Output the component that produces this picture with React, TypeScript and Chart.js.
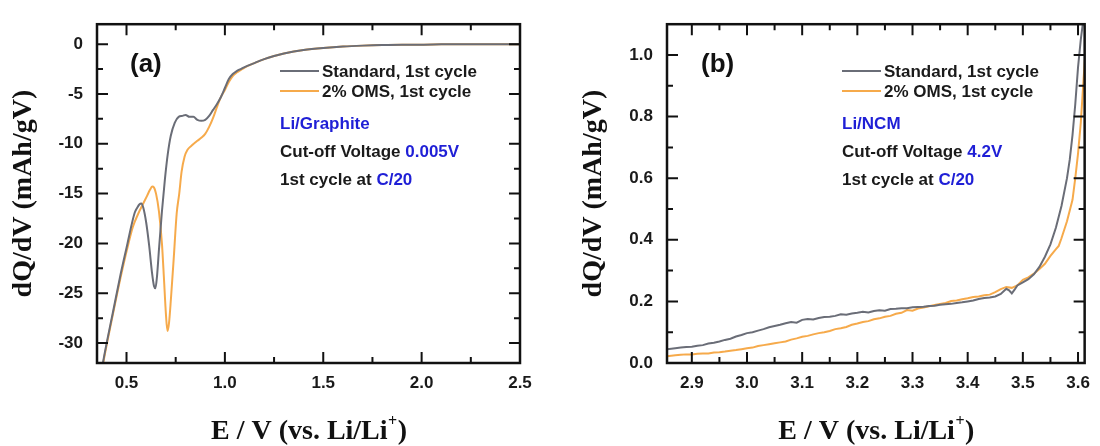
import React, { useEffect, useRef } from 'react';
import { Chart, registerables } from 'chart.js';

Chart.register(...registerables);

// ---------- Panel (a): Li/Graphite ----------
const A_STD_X = [0.37, 0.38, 0.40, 0.43, 0.47, 0.505, 0.525, 0.542, 0.555, 0.565, 0.575, 0.585, 0.60, 0.615, 0.63, 0.64, 0.647, 0.655, 0.665, 0.68, 0.695, 0.71, 0.725, 0.745, 0.765, 0.785, 0.80, 0.82, 0.84, 0.86, 0.88, 0.90, 0.92, 0.94, 0.96, 0.98, 1.00, 1.02, 1.04, 1.06, 1.08, 1.10, 1.15, 1.20, 1.25, 1.30, 1.35, 1.40, 1.50, 1.60, 1.70, 1.80, 1.90, 2.00, 2.10, 2.30, 2.50];
const A_STD_Y = [-33.2, -32.0, -29.9, -27.0, -23.1, -20.0, -18.2, -16.9, -16.4, -16.1, -16.0, -16.4, -17.9, -20.2, -23.0, -24.3, -24.5, -23.3, -20.6, -16.8, -13.6, -11.0, -9.2, -7.9, -7.3, -7.2, -7.1, -7.3, -7.3, -7.6, -7.7, -7.6, -7.2, -6.6, -6.0, -5.3, -4.4, -3.5, -3.0, -2.7, -2.5, -2.3, -1.9, -1.5, -1.2, -0.95, -0.75, -0.6, -0.4, -0.25, -0.15, -0.08, -0.05, -0.05, -0.02, 0, 0];
const A_OMS_X = [0.37, 0.38, 0.40, 0.43, 0.47, 0.505, 0.533, 0.56, 0.585, 0.605, 0.62, 0.63, 0.64, 0.65, 0.665, 0.68, 0.69, 0.70, 0.708, 0.716, 0.726, 0.74, 0.755, 0.768, 0.78, 0.795, 0.81, 0.83, 0.86, 0.88, 0.90, 0.92, 0.94, 0.96, 0.98, 1.00, 1.02, 1.04, 1.06, 1.08, 1.10, 1.15, 1.20, 1.25, 1.30, 1.35, 1.40, 1.50, 1.60, 1.70, 1.80, 1.90, 2.00, 2.10, 2.30, 2.50];
const A_OMS_Y = [-33.4, -32.2, -30.1, -27.2, -23.4, -20.4, -18.3, -17.0, -16.0, -15.2, -14.6, -14.3, -14.4, -15.0, -16.8, -20.0, -23.4, -27.0, -28.8, -28.0, -25.5, -21.5, -17.0, -15.0, -12.8, -11.3, -10.6, -10.2, -9.7, -9.4, -9.0, -8.3, -7.4, -6.3, -5.3, -4.6, -3.8, -3.2, -2.85, -2.6, -2.35, -1.9, -1.5, -1.2, -0.95, -0.75, -0.6, -0.4, -0.25, -0.15, -0.08, -0.05, -0.05, -0.02, 0, 0];
const A_X_TICKS = [0.5, 1.0, 1.5, 2.0, 2.5];
const A_X_MINOR = [0.75, 1.25, 1.75, 2.25];
const A_Y_TICKS = [-30, -25, -20, -15, -10, -5, 0];
const A_Y_MINOR = [-27.5, -22.5, -17.5, -12.5, -7.5, -2.5];

// ---------- Panel (b): Li/NCM ----------
const B_STD_X = [2.855, 2.87, 2.88, 2.89, 2.90, 2.91, 2.92, 2.93, 2.94, 2.95, 2.96, 2.97, 2.98, 2.99, 3.00, 3.01, 3.02, 3.03, 3.04, 3.05, 3.06, 3.07, 3.08, 3.09, 3.10, 3.11, 3.12, 3.13, 3.14, 3.15, 3.16, 3.17, 3.18, 3.19, 3.20, 3.21, 3.22, 3.23, 3.24, 3.25, 3.26, 3.27, 3.28, 3.29, 3.30, 3.31, 3.32, 3.33, 3.34, 3.35, 3.36, 3.37, 3.38, 3.39, 3.40, 3.41, 3.42, 3.43, 3.44, 3.45, 3.46, 3.47, 3.475, 3.48, 3.485, 3.49, 3.50, 3.51, 3.52, 3.53, 3.54, 3.55, 3.56, 3.57, 3.58, 3.585, 3.59, 3.595, 3.60, 3.605, 3.61];
const B_STD_Y = [0.045, 0.048, 0.050, 0.052, 0.053, 0.056, 0.058, 0.063, 0.066, 0.070, 0.075, 0.079, 0.086, 0.091, 0.097, 0.100, 0.105, 0.110, 0.116, 0.120, 0.124, 0.129, 0.133, 0.131, 0.140, 0.143, 0.141, 0.146, 0.149, 0.150, 0.153, 0.158, 0.157, 0.161, 0.163, 0.166, 0.164, 0.169, 0.171, 0.170, 0.175, 0.176, 0.178, 0.178, 0.181, 0.182, 0.183, 0.185, 0.186, 0.189, 0.191, 0.192, 0.195, 0.197, 0.200, 0.203, 0.208, 0.211, 0.213, 0.216, 0.224, 0.241, 0.236, 0.226, 0.238, 0.252, 0.262, 0.272, 0.288, 0.312, 0.345, 0.385, 0.44, 0.51, 0.60, 0.66, 0.74, 0.84, 0.96, 1.05, 1.12];
const B_OMS_X = [2.855, 2.87, 2.88, 2.89, 2.90, 2.91, 2.92, 2.93, 2.94, 2.95, 2.96, 2.97, 2.98, 2.99, 3.00, 3.01, 3.02, 3.03, 3.04, 3.05, 3.06, 3.07, 3.08, 3.09, 3.10, 3.11, 3.12, 3.13, 3.14, 3.15, 3.16, 3.17, 3.18, 3.19, 3.20, 3.21, 3.22, 3.23, 3.24, 3.25, 3.26, 3.27, 3.28, 3.29, 3.30, 3.31, 3.32, 3.33, 3.34, 3.35, 3.36, 3.37, 3.38, 3.39, 3.40, 3.41, 3.42, 3.43, 3.44, 3.45, 3.46, 3.47, 3.48, 3.49, 3.50, 3.51, 3.52, 3.53, 3.54, 3.55, 3.56, 3.565, 3.57, 3.58, 3.59, 3.595, 3.60, 3.605, 3.61, 3.615];
const B_OMS_Y = [0.022, 0.025, 0.027, 0.028, 0.028, 0.030, 0.031, 0.031, 0.034, 0.035, 0.037, 0.040, 0.042, 0.045, 0.048, 0.050, 0.055, 0.058, 0.061, 0.064, 0.067, 0.070, 0.076, 0.080, 0.085, 0.088, 0.093, 0.097, 0.100, 0.104, 0.110, 0.113, 0.117, 0.124, 0.128, 0.133, 0.136, 0.142, 0.145, 0.150, 0.153, 0.160, 0.163, 0.172, 0.170, 0.177, 0.180, 0.184, 0.188, 0.192, 0.195, 0.201, 0.203, 0.207, 0.210, 0.214, 0.216, 0.220, 0.222, 0.230, 0.240, 0.247, 0.244, 0.252, 0.270, 0.278, 0.290, 0.305, 0.322, 0.348, 0.370, 0.380, 0.405, 0.46, 0.53, 0.60, 0.68, 0.78, 0.92, 1.05];
const B_X_TICKS = [2.9, 3.0, 3.1, 3.2, 3.3, 3.4, 3.5, 3.6];
const B_X_MINOR = [2.95, 3.05, 3.15, 3.25, 3.35, 3.45, 3.55];
const B_Y_TICKS = [0.0, 0.2, 0.4, 0.6, 0.8, 1.0];
const B_Y_MINOR = [0.1, 0.3, 0.5, 0.7, 0.9];

// ---------- Texts ----------
const SERIES_NAMES = ['Standard, 1st cycle', '2% OMS, 1st cycle'];
const Y_TITLE = 'dQ/dV (mAh/gV)';
const X_TITLE_MAIN = 'E / V (vs. Li/Li';
const X_TITLE_SUP = '+';
const X_TITLE_END = ')';

const GRAY = '#6a6d77';
const ORANGE = 'rgba(245,163,60,0.92)';
const BLUE = '#1f1fd6';
const SANS = '"Liberation Sans", Arial, sans-serif';
const SERIF = '"Liberation Serif", "Times New Roman", serif';

type Panel = {
  stdX: number[]; stdY: number[]; omsX: number[]; omsY: number[];
  xMin: number; xMax: number; yMin: number; yMax: number;
  xTicks: number[]; xMinor: number[]; yTicks: number[]; yMinor: number[];
  xDec: number; yDec: number; monotone: boolean;
  width: number; plotLeft: number; plotRight: number; plotTop: number; plotBottom: number;
  label: string; material: string; cutoff: string; rate: string;
  labelX: number; legendX: number;
};

function framePlugin(p: Panel) {
  return {
    id: 'frame',
    afterDraw(chart: any) {
      const ctx = chart.ctx;
      const { left, right, top, bottom } = chart.chartArea;
      const xs = chart.scales.x;
      const ys = chart.scales.y;
      ctx.save();
      ctx.strokeStyle = '#111';
      ctx.lineWidth = 2.5;
      ctx.strokeRect(left, top, right - left, bottom - top);
      ctx.lineWidth = 2;
      const vTick = (v: number, len: number) => {
        const px = xs.getPixelForValue(v);
        ctx.beginPath();
        ctx.moveTo(px, bottom); ctx.lineTo(px, bottom - len);
        ctx.moveTo(px, top); ctx.lineTo(px, top + len);
        ctx.stroke();
      };
      const hTick = (v: number, len: number) => {
        const py = ys.getPixelForValue(v);
        ctx.beginPath();
        ctx.moveTo(left, py); ctx.lineTo(left + len, py);
        ctx.moveTo(right, py); ctx.lineTo(right - len, py);
        ctx.stroke();
      };
      p.xTicks.forEach((v) => vTick(v, 11));
      p.xMinor.forEach((v) => vTick(v, 6));
      p.yTicks.forEach((v) => hTick(v, 11));
      p.yMinor.forEach((v) => hTick(v, 6));

      // Axis titles
      ctx.fillStyle = '#111';
      ctx.textBaseline = 'alphabetic';
      ctx.textAlign = 'left';
      const big = `bold 28px ${SERIF}`;
      const small = `bold 16px ${SERIF}`;
      ctx.font = big;
      const w1 = ctx.measureText(X_TITLE_MAIN).width;
      const w3 = ctx.measureText(X_TITLE_END).width;
      ctx.font = small;
      const w2 = ctx.measureText(X_TITLE_SUP).width;
      const cx = (left + right) / 2;
      const sx = cx - (w1 + w2 + w3) / 2;
      const by = 439;
      ctx.font = big;
      ctx.fillText(X_TITLE_MAIN, sx, by);
      ctx.font = small;
      ctx.fillText(X_TITLE_SUP, sx + w1 + 0.5, by - 13);
      ctx.font = big;
      ctx.fillText(X_TITLE_END, sx + w1 + w2 + 1, by);

      ctx.save();
      ctx.translate(left - 73, (top + bottom) / 2);
      ctx.rotate(-Math.PI / 2);
      ctx.textAlign = 'center';
      ctx.textBaseline = 'middle';
      ctx.font = big;
      ctx.fillText(Y_TITLE, 0, 0);
      ctx.restore();

      // Panel label
      ctx.textAlign = 'left';
      ctx.textBaseline = 'middle';
      ctx.font = `bold 26px ${SANS}`;
      ctx.fillStyle = '#111';
      ctx.fillText(p.label, p.labelX, 65);

      // Legend
      const lx = p.legendX;
      ctx.lineWidth = 2;
      ctx.strokeStyle = GRAY;
      ctx.beginPath(); ctx.moveTo(lx, 71); ctx.lineTo(lx + 39, 71); ctx.stroke();
      ctx.strokeStyle = ORANGE;
      ctx.beginPath(); ctx.moveTo(lx, 91); ctx.lineTo(lx + 39, 91); ctx.stroke();
      ctx.font = `bold 17px ${SANS}`;
      ctx.fillStyle = '#1a1a1a';
      ctx.fillText(SERIES_NAMES[0], lx + 42, 72);
      ctx.fillText(SERIES_NAMES[1], lx + 42, 92);

      ctx.fillStyle = BLUE;
      ctx.fillText(p.material, lx, 124);
      ctx.fillStyle = '#1a1a1a';
      const a1 = 'Cut-off Voltage ';
      ctx.fillText(a1, lx, 152);
      ctx.fillStyle = BLUE;
      ctx.fillText(p.cutoff, lx + ctx.measureText(a1).width, 152);
      ctx.fillStyle = '#1a1a1a';
      const a2 = '1st cycle at ';
      ctx.fillText(a2, lx, 180);
      ctx.fillStyle = BLUE;
      ctx.fillText(p.rate, lx + ctx.measureText(a2).width, 180);
      ctx.restore();
    },
  };
}

function makeConfig(p: Panel): any {
  const H = 446;
  const tickFont = { family: SANS, size: 17, weight: 'bold' as const };
  const ds = (xs: number[], ys: number[], color: string, label: string) => ({
    label,
    data: xs.map((x, i) => ({ x, y: ys[i] })),
    showLine: true,
    borderColor: color,
    borderWidth: 2,
    pointRadius: 0,
    fill: false,
    tension: p.monotone ? 0.4 : 0,
    cubicInterpolationMode: p.monotone ? 'monotone' : 'default',
  });
  return {
    type: 'scatter',
    data: {
      datasets: [
        ds(p.stdX, p.stdY, GRAY, SERIES_NAMES[0]),
        ds(p.omsX, p.omsY, ORANGE, SERIES_NAMES[1]),
      ],
    },
    options: {
      animation: false,
      responsive: false,
      events: [],
      layout: { padding: { left: 0, right: p.width - p.plotRight, top: p.plotTop, bottom: 0 } },
      plugins: { legend: { display: false }, tooltip: { enabled: false }, title: { display: false } },
      scales: {
        x: {
          type: 'linear',
          min: p.xMin,
          max: p.xMax,
          grid: { display: false, drawTicks: false },
          border: { display: false },
          ticks: {
            font: tickFont,
            color: '#1a1a1a',
            padding: 10,
            maxRotation: 0,
            autoSkip: false,
            callback: (v: any) => Number(v).toFixed(p.xDec),
          },
          afterBuildTicks: (s: any) => { s.ticks = p.xTicks.map((v) => ({ value: v })); },
          afterFit: (s: any) => { s.height = H - p.plotBottom; },
        },
        y: {
          type: 'linear',
          min: p.yMin,
          max: p.yMax,
          grid: { display: false, drawTicks: false },
          border: { display: false },
          ticks: {
            font: tickFont,
            color: '#1a1a1a',
            padding: 14,
            autoSkip: false,
            callback: (v: any) => Number(v).toFixed(p.yDec),
          },
          afterBuildTicks: (s: any) => { s.ticks = p.yTicks.map((v) => ({ value: v })); },
          afterFit: (s: any) => { s.width = p.plotLeft; },
        },
      },
    },
    plugins: [framePlugin(p)],
  };
}

const PANEL_A: Panel = {
  stdX: A_STD_X, stdY: A_STD_Y, omsX: A_OMS_X, omsY: A_OMS_Y,
  xMin: 0.35, xMax: 2.5, yMin: -32, yMax: 2,
  xTicks: A_X_TICKS, xMinor: A_X_MINOR, yTicks: A_Y_TICKS, yMinor: A_Y_MINOR,
  xDec: 1, yDec: 0, monotone: true,
  width: 560, plotLeft: 97, plotRight: 520, plotTop: 13, plotBottom: 363,
  label: '(a)', material: 'Li/Graphite', cutoff: '0.005V', rate: 'C/20',
  labelX: 130, legendX: 280,
};

const PANEL_B: Panel = {
  stdX: B_STD_X, stdY: B_STD_Y, omsX: B_OMS_X, omsY: B_OMS_Y,
  xMin: 2.855, xMax: 3.612, yMin: 0, yMax: 1.1,
  xTicks: B_X_TICKS, xMinor: B_X_MINOR, yTicks: B_Y_TICKS, yMinor: B_Y_MINOR,
  xDec: 1, yDec: 1, monotone: false,
  width: 540, plotLeft: 107, plotRight: 530, plotTop: 13, plotBottom: 363,
  label: '(b)', material: 'Li/NCM', cutoff: '4.2V', rate: 'C/20',
  labelX: 141, legendX: 282,
};

function ChartPanel({ panel, left }: { panel: Panel; left: number }) {
  const ref = useRef<HTMLCanvasElement | null>(null);
  useEffect(() => {
    if (!ref.current) return;
    const chart = new Chart(ref.current, makeConfig(panel));
    return () => chart.destroy();
  }, [panel]);
  return (
    <canvas
      ref={ref}
      width={panel.width}
      height={446}
      style={{ position: 'absolute', left, top: 0, width: panel.width, height: 446 }}
    />
  );
}

export default function App() {
  return (
    <div style={{ position: 'absolute', left: 0, top: 0, width: 1100, height: 446, background: '#fff', overflow: 'hidden' }}>
      <ChartPanel panel={PANEL_A} left={0} />
      <ChartPanel panel={PANEL_B} left={560} />
    </div>
  );
}
